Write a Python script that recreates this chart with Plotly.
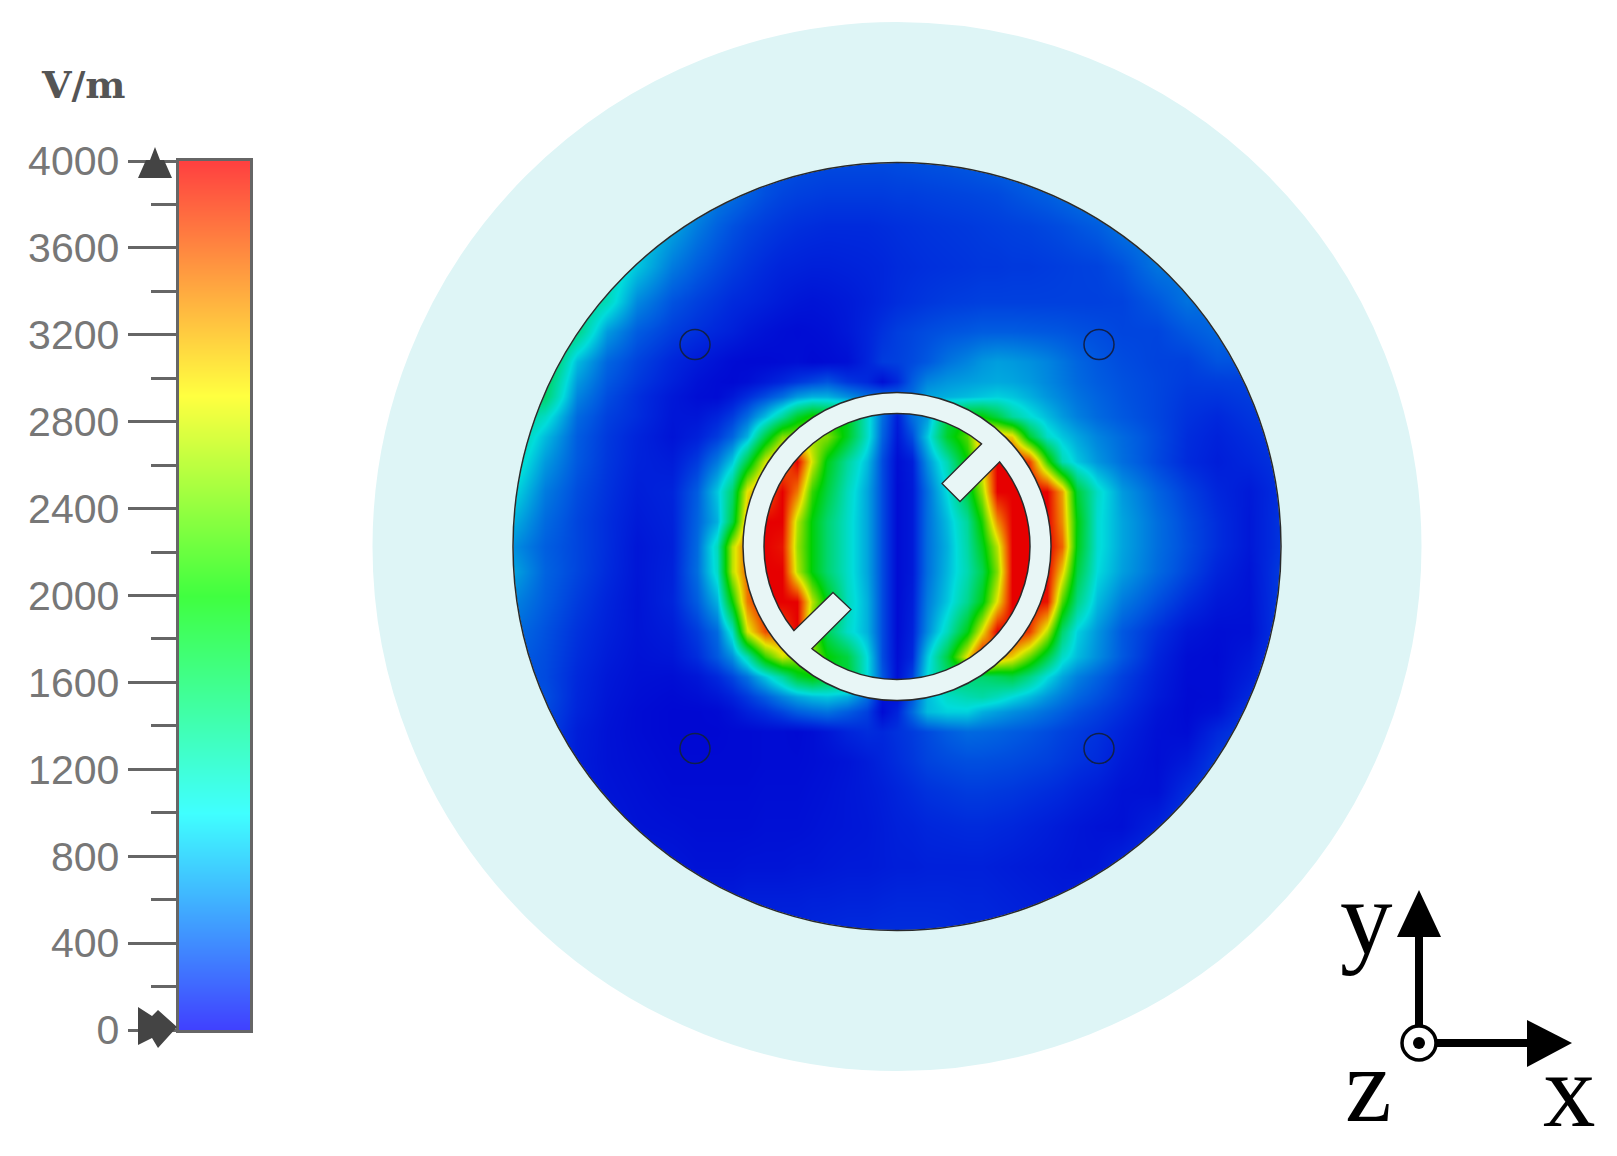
import plotly.graph_objects as go

# field sample points, px from the disc centre (y runs downwards)
grid_x = [-384, -352, -320, -290, -260, -225, -200, -180, -165, -150, -132, -115, -100, -85, -70, -50, -30, -15, 0,
          15, 30, 50, 70, 85, 100, 115, 132, 150, 165, 180, 200, 225, 260, 290, 320, 352, 384]
grid_y = [-384, -352, -320, -280, -245, -215, -185, -165, -150, -130, -110, -85, -55, -25, 0,
          25, 55, 85, 110, 130, 150, 165, 185, 215, 245, 280, 320, 352, 384]

# |E| in V/m, one row per grid_y
field = [
    [1200, 1200, 1200, 1100, 1000, 800, 650, 560, 500, 450, 400, 380, 360, 350, 340, 340, 340, 340, 350, 360, 370, 380, 400, 420, 440, 460, 480, 500, 520, 540, 600, 600, 550, 500, 450, 400, 350],
    [1400, 1400, 1400, 1300, 1100, 900, 700, 560, 500, 430, 360, 320, 300, 290, 280, 280, 280, 280, 290, 290, 300, 310, 320, 330, 340, 370, 400, 430, 470, 510, 560, 600, 550, 500, 450, 400, 350],
    [1500, 1500, 1500, 1300, 1000, 750, 560, 440, 370, 320, 280, 250, 230, 220, 210, 210, 210, 220, 230, 240, 250, 260, 270, 280, 290, 300, 310, 330, 350, 380, 420, 520, 580, 500, 450, 400, 350],
    [1600, 1600, 1500, 1250, 900, 560, 420, 340, 290, 250, 210, 180, 170, 160, 160, 170, 180, 190, 210, 220, 230, 240, 250, 260, 260, 270, 270, 280, 290, 300, 310, 370, 530, 550, 470, 400, 350],
    [1700, 1700, 1500, 1150, 620, 380, 300, 250, 210, 190, 160, 130, 110, 100, 110, 130, 160, 190, 220, 240, 260, 280, 290, 300, 300, 300, 300, 300, 300, 300, 300, 310, 400, 520, 480, 400, 350],
    [1800, 1800, 1400, 700, 420, 290, 230, 190, 160, 120, 90, 70, 60, 70, 80, 120, 180, 240, 290, 320, 350, 380, 400, 420, 420, 420, 410, 400, 390, 370, 350, 320, 320, 400, 470, 400, 340],
    [1900, 1800, 850, 460, 310, 190, 130, 90, 60, 50, 50, 60, 70, 50, 60, 80, 180, 280, 300, 340, 400, 520, 600, 680, 720, 700, 660, 600, 530, 460, 400, 350, 310, 300, 380, 380, 320],
    [1800, 1600, 700, 400, 270, 160, 90, 60, 50, 70, 130, 190, 260, 320, 380, 260, 200, 80, 200, 420, 600, 680, 720, 750, 770, 750, 700, 620, 550, 480, 420, 370, 320, 280, 290, 300, 300],
    [1700, 1500, 600, 350, 230, 120, 70, 60, 120, 220, 350, 500, 700, 800, 800, 650, 500, 500, 450, 500, 750, 800, 850, 900, 950, 900, 800, 680, 600, 520, 450, 380, 320, 260, 250, 280, 290],
    [1500, 1100, 480, 300, 220, 110, 110, 180, 280, 480, 850, 1300, 1800, 2100, 2000, 1900, 1100, 500, 150, 500, 700, 1700, 2000, 2000, 1700, 1300, 1050, 850, 700, 580, 480, 400, 320, 240, 200, 250, 280],
    [1350, 850, 420, 270, 180, 100, 160, 280, 450, 800, 1700, 2500, 2600, 2600, 2500, 1850, 1100, 450, 120, 350, 900, 1800, 2300, 3300, 3200, 3000, 1800, 1100, 900, 750, 600, 480, 340, 220, 170, 220, 270],
    [1200, 700, 400, 260, 170, 140, 280, 550, 900, 1700, 2800, 3400, 4000, 2800, 1900, 1300, 850, 350, 70, 150, 650, 1200, 2000, 3000, 4000, 4000, 3700, 2200, 1200, 900, 680, 500, 330, 210, 150, 190, 250],
    [1000, 560, 350, 240, 150, 180, 420, 900, 1500, 2900, 3500, 4000, 3400, 2200, 1700, 1150, 750, 350, 60, 130, 500, 1000, 1700, 2600, 4000, 4000, 4000, 4000, 3200, 1750, 1100, 700, 450, 300, 190, 130, 230],
    [800, 480, 320, 220, 130, 170, 450, 800, 1700, 3200, 4000, 4000, 2700, 1950, 1500, 1100, 750, 350, 60, 130, 500, 850, 1300, 2100, 3300, 4000, 4000, 4000, 3300, 1950, 1050, 750, 500, 340, 220, 120, 250],
    [650, 430, 320, 220, 110, 160, 480, 1150, 2700, 3500, 4000, 3900, 2600, 1950, 1500, 1100, 750, 350, 60, 130, 500, 800, 1250, 1850, 2700, 4000, 4000, 4000, 3500, 1900, 1050, 750, 500, 350, 220, 120, 250],
    [750, 450, 320, 210, 110, 170, 500, 1100, 2700, 3500, 4000, 4000, 2700, 1950, 1500, 1100, 750, 350, 60, 130, 500, 830, 1200, 1650, 2500, 4000, 4000, 4000, 3000, 1700, 1000, 720, 480, 320, 180, 100, 280],
    [600, 420, 280, 180, 100, 180, 420, 800, 2000, 3400, 4000, 4000, 4000, 2700, 1900, 1150, 800, 350, 60, 150, 560, 900, 1350, 1900, 2900, 4000, 4000, 3900, 2300, 1400, 850, 560, 360, 220, 120, 90, 280],
    [500, 370, 240, 160, 100, 140, 280, 480, 1100, 2800, 3600, 3600, 4000, 2400, 1600, 1100, 800, 350, 60, 170, 620, 1150, 1900, 2900, 4000, 4000, 3700, 2700, 1500, 950, 680, 400, 230, 110, 70, 80, 280],
    [440, 350, 220, 140, 90, 110, 220, 400, 650, 1200, 2200, 2800, 2600, 2600, 2000, 1700, 1000, 350, 70, 200, 900, 1700, 2900, 4000, 3300, 3000, 2400, 1700, 1100, 850, 640, 400, 180, 70, 55, 120, 300],
    [420, 340, 200, 120, 80, 70, 110, 200, 320, 520, 900, 1300, 1800, 2000, 1800, 1800, 1000, 400, 80, 300, 1000, 1500, 1500, 1500, 1600, 1700, 1400, 1000, 750, 580, 450, 300, 150, 60, 60, 150, 310],
    [400, 360, 190, 110, 70, 50, 70, 110, 170, 270, 420, 600, 750, 850, 900, 800, 500, 100, 100, 400, 850, 1100, 1200, 1250, 1150, 1000, 850, 680, 560, 460, 370, 260, 130, 55, 60, 200, 320],
    [380, 340, 180, 100, 60, 40, 40, 50, 90, 160, 230, 320, 420, 480, 520, 420, 300, 60, 180, 480, 850, 950, 950, 800, 720, 650, 580, 500, 430, 360, 300, 220, 100, 50, 90, 260, 320],
    [360, 320, 150, 90, 60, 40, 40, 40, 50, 50, 60, 60, 50, 70, 110, 180, 220, 200, 240, 280, 340, 420, 480, 470, 450, 420, 390, 350, 310, 280, 240, 170, 80, 60, 200, 300, 320],
    [340, 300, 140, 90, 70, 50, 50, 50, 50, 50, 60, 60, 60, 70, 80, 100, 140, 180, 220, 260, 310, 340, 360, 360, 350, 340, 320, 300, 270, 240, 210, 130, 70, 130, 280, 320, 320],
    [330, 280, 150, 100, 80, 60, 60, 60, 60, 60, 70, 70, 70, 80, 90, 110, 130, 150, 180, 210, 240, 260, 280, 280, 270, 260, 240, 220, 200, 170, 140, 90, 80, 220, 300, 320, 320],
    [320, 280, 170, 120, 90, 80, 70, 70, 70, 70, 80, 80, 80, 90, 100, 110, 120, 140, 160, 170, 190, 200, 210, 210, 200, 190, 170, 150, 130, 110, 90, 80, 170, 290, 320, 320, 320],
    [310, 280, 200, 170, 130, 110, 90, 90, 90, 100, 100, 100, 110, 110, 120, 130, 130, 140, 150, 150, 160, 160, 160, 160, 150, 140, 130, 120, 110, 100, 110, 180, 280, 320, 320, 320, 320],
    [300, 280, 240, 210, 180, 160, 140, 130, 130, 150, 150, 150, 150, 160, 160, 170, 170, 180, 190, 190, 190, 190, 180, 180, 170, 160, 150, 140, 130, 150, 220, 290, 320, 320, 320, 320, 320],
    [300, 290, 270, 250, 220, 200, 190, 180, 170, 170, 170, 180, 180, 190, 200, 210, 210, 220, 220, 220, 220, 210, 200, 200, 190, 180, 170, 170, 180, 220, 280, 320, 320, 320, 320, 320, 320],
]

scale_levels = [0, 400, 800, 1200, 1600, 2000, 2400, 2800, 3200, 3600, 4000]
scale_labels = ["0", "400", "800", "1200", "1600", "2000", "2400", "2800", "3200", "3600", "4000"]

field_colors = [[0, "#0000d0"], [0.05, "#0028dc"], [0.1, "#0058e0"], [0.25, "#00dcdc"], [0.5, "#00d000"],
                [0.72, "#e6e600"], [0.88, "#f06000"], [1, "#e60000"]]
bar_colors = [[0, "#4040ff"], [0.25, "#40ffff"], [0.5, "#40ff40"], [0.73, "#ffff40"], [1, "#ff4040"]]

CX, CY = 897, 546.5
LIGHT = "#def5f6"
RING = "#e8f6f6"
EDGE = "#2a2a2a"


def page(x, y):
    # picture pixels -> field axes
    return x - CX, y - CY


def poly(points, close=True):
    d = "M" + " L".join("%g,%g" % p for p in points)
    return d + (" Z" if close else "")


def circle(r, **kw):
    return dict(type="circle", xref="x", yref="y", x0=-r, x1=r, y0=-r, y1=r, **kw)


shapes = []
# light outer disc sits under the field, the strokes mask the square heatmap
shapes.append(circle(524, fillcolor=LIGHT, line_width=0, layer="below"))
shapes.append(circle(570, line=dict(color="white", width=100)))
shapes.append(circle(454, line=dict(color=LIGHT, width=141)))
shapes.append(circle(384, line=dict(color=EDGE, width=1.5)))

# holes
for hx, hy in [(-202, -202), (202, -202), (-202, 202), (202, 202)]:
    shapes.append(dict(type="circle", xref="x", yref="y", x0=hx - 15, x1=hx + 15, y0=hy - 15, y1=hy + 15,
                       line=dict(color="#10204a", width=1.5)))

# ring with its two stubs
shapes.append(circle(143.5, line=dict(color=EDGE, width=22.5)))
stub_a = [(45, -63), (63, -45), (106, -88), (88, -106)]
stub_b = [(-64, 46), (-46, 63), (-88, 105), (-106, 87)]
for stub in (stub_a, stub_b):
    shapes.append(dict(type="path", xref="x", yref="y", path=poly(stub), fillcolor=RING,
                       line=dict(color=EDGE, width=1.3)))
shapes.append(circle(143.5, line=dict(color=RING, width=19.5)))

# pointers on the scale
top_mark = [page(155, 147), page(160, 160), page(164, 160), page(172, 178), page(138, 178), page(146, 160), page(150, 160)]
low_mark = [page(138, 1007), page(152, 1016), page(158, 1010), page(177, 1027), page(158, 1048), page(152, 1038), page(138, 1045)]
for mark in (top_mark, low_mark):
    shapes.append(dict(type="path", xref="x", yref="y", path=poly(mark), fillcolor="#444444", line_width=0))

# axis triad
shapes.append(dict(type="path", xref="x", yref="y", path=poly([page(1419, 1026), page(1419, 935)], False),
                   line=dict(color="black", width=8)))
shapes.append(dict(type="path", xref="x", yref="y", path=poly([page(1436, 1043), page(1530, 1043)], False),
                   line=dict(color="black", width=8)))
shapes.append(dict(type="path", xref="x", yref="y", path=poly([page(1419, 890), page(1441, 937), page(1397, 937)]),
                   fillcolor="black", line_width=0))
shapes.append(dict(type="path", xref="x", yref="y", path=poly([page(1572, 1043), page(1527, 1020), page(1527, 1067)]),
                   fillcolor="black", line_width=0))
ox, oy = page(1419, 1043)
shapes.append(dict(type="circle", xref="x", yref="y", x0=ox - 17, x1=ox + 17, y0=oy - 17, y1=oy + 17,
                   fillcolor="white", line=dict(color="black", width=3.5)))
shapes.append(dict(type="circle", xref="x", yref="y", x0=ox - 6, x1=ox + 6, y0=oy - 6, y1=oy + 6,
                   fillcolor="black", line_width=0))

fig = go.Figure()
fig.add_trace(go.Heatmap(x=grid_x, y=grid_y, z=field, zmin=0, zmax=4000, zsmooth="best",
                         colorscale=field_colors, showscale=False, hoverinfo="skip"))
bar_y = list(range(0, 4001, 200))
fig.add_trace(go.Heatmap(x=[0, 1], y=bar_y, z=[[v, v] for v in bar_y], zmin=0, zmax=4000, zsmooth="best",
                         colorscale=bar_colors, showscale=False, hoverinfo="skip", xaxis="x2", yaxis="y2"))


def note(text, x, y, size, family="Liberation Serif", color="black", **kw):
    ax, ay = page(x, y)
    return dict(text=text, x=ax, y=ay, xref="x", yref="y", showarrow=False, xanchor="center", yanchor="middle",
                font=dict(family=family, size=size, color=color), **kw)


fig.update_layout(
    width=1617, height=1156, margin=dict(l=0, r=0, t=0, b=0, autoexpand=False),
    paper_bgcolor="white", plot_bgcolor="white", showlegend=False,
    xaxis=dict(range=[-CX, 1617 - CX], visible=False),
    yaxis=dict(range=[1156 - CY, -CY], visible=False),
    xaxis2=dict(domain=[178.5 / 1617, 250 / 1617], anchor="y2", range=[0, 1], showticklabels=False, ticks="",
                showgrid=False, zeroline=False, showline=True, mirror=True, linecolor="#666666", linewidth=3),
    yaxis2=dict(domain=[(1156 - 1030) / 1156, (1156 - 161) / 1156], anchor="x2", range=[0, 4000],
                tickmode="array", tickvals=scale_levels, ticktext=scale_labels,
                ticks="outside", ticklen=48, tickwidth=3, tickcolor="#666666",
                minor=dict(tickmode="linear", tick0=0, dtick=200, ticks="outside", ticklen=25, tickwidth=3, tickcolor="#666666"),
                tickfont=dict(family="Liberation Sans", size=41, color="#777777"), ticklabelstandoff=0,
                showgrid=False, zeroline=False, showline=True, mirror=True, linecolor="#666666", linewidth=3),
    shapes=shapes,
    annotations=[
        note("<b>V/m</b>", 83, 84, 38, family="DejaVu Serif", color="#555555"),
        note("y", 1366, 917, 105),
        note("z", 1368, 1085, 105),
        note("x", 1569, 1090, 105),
    ],
)

fig.write_html("out.html", config={"displayModeBar": False}, post_script="document.body.style.margin='0';")
